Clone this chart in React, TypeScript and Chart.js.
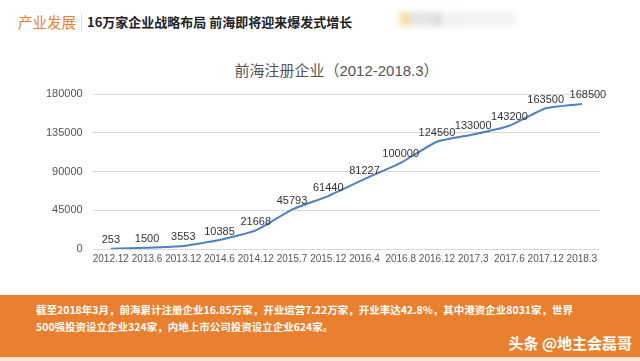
import React, { useEffect, useRef } from "react";
import { Chart, registerables } from "chart.js";

Chart.register(...registerables);

const categories = ["2012.12", "2013.6", "2013.12", "2014.6", "2014.12", "2015.7", "2015.12", "2016.4", "2016.8", "2016.12", "2017.3", "2017.6", "2017.12", "2018.3"];
const values = [253, 1500, 3553, 10385, 21668, 45793, 61440, 81227, 100000, 124560, 133000, 143200, 163500, 168500];
const yTicks = [0, 45000, 90000, 135000, 180000];

const FONT = "'Liberation Sans', 'Noto Sans CJK SC', sans-serif";

const labelPlugin = {
  id: "pointLabels",
  afterDatasetsDraw(chart: any) {
    const ctx = chart.ctx;
    const meta = chart.getDatasetMeta(0);
    ctx.save();
    ctx.font = `11px ${FONT}`;
    ctx.fillStyle = "#333";
    ctx.textAlign = "center";
    ctx.textBaseline = "bottom";
    meta.data.forEach((pt: any, i: number) => {
      const dx = i === values.length - 1 ? 6 : 0;
      ctx.fillText(String(values[i]), pt.x + dx, pt.y - 3);
    });
    // category labels under the plot, placed by the x scale
    const xs = chart.scales.x;
    ctx.font = `10px ${FONT}`;
    ctx.fillStyle = "#555";
    ctx.textBaseline = "middle";
    categories.forEach((c, i) => {
      ctx.fillText(c, xs.getPixelForValue(i), chart.chartArea.bottom + 10);
    });
    ctx.restore();
  },
};

export default function App() {
  const ref = useRef<HTMLCanvasElement>(null);
  useEffect(() => {
    document.body.style.margin = "0";
    const chart = new Chart(ref.current!, {
      type: "line",
      data: {
        labels: categories,
        datasets: [
          {
            data: values,
            borderColor: "#4f81bd",
            borderWidth: 2,
            pointRadius: 0,
            tension: 0.15,
            fill: false,
          },
        ],
      },
      options: {
        animation: false,
        responsive: false,
        maintainAspectRatio: false,
        layout: { padding: { left: 36, right: 40, top: 39, bottom: 18 } },
        plugins: {
          legend: { display: false },
          tooltip: { enabled: false },
          title: { display: false },
        },
        scales: {
          x: {
            offset: true,
            grid: { display: false },
            border: { display: false },
            ticks: { display: false },
          },
          y: {
            min: 0,
            max: 180000,
            afterBuildTicks: (axis: any) => {
              axis.ticks = yTicks.map((v) => ({ value: v }));
            },
            grid: { color: "#d9d9d9", drawTicks: false },
            border: { display: false },
            ticks: {
              color: "#555",
              font: { family: FONT, size: 11 },
              padding: 10,
              callback: (v: any) => String(v),
            },
          },
        },
      },
      plugins: [labelPlugin],
    });
    return () => chart.destroy();
  }, []);

  return (
    <div style={{ position: "fixed", left: 0, top: 0, width: 640, height: 361, background: "#fff", overflow: "hidden", fontFamily: "'Noto Sans CJK SC', sans-serif" }}>
      <div style={{ position: "absolute", left: 18, top: 12, fontSize: 14.5, lineHeight: "20px", color: "#e8822f" }}>产业发展</div>
      <div style={{ position: "absolute", left: 81, top: 13, width: 1, height: 19, background: "#ddd" }} />
      <div style={{ position: "absolute", left: 87, top: 12, fontSize: 13, lineHeight: "20px", fontWeight: "bold", color: "#222" }}>16万家企业战略布局 前海即将迎来爆发式增长</div>
      <div style={{ position: "absolute", left: 400, top: 12, width: 115, height: 14, filter: "blur(3px)", background: "linear-gradient(90deg, #f4d27a 0 8%, #ddd 8% 30%, #ccc 30% 36%, #eee 36% 55%, #f0f0f0 55% 100%)", opacity: 0.8 }} />
      <div style={{ position: "absolute", left: 230, top: 61, width: 213, textAlign: "center", fontSize: 15, lineHeight: "20px", color: "#555", fontFamily: FONT, whiteSpace: "nowrap" }}>前海注册企业（2012-2018.3）</div>
      <canvas ref={ref} width={640} height={220} style={{ position: "absolute", left: 0, top: 55, width: 640, height: 220 }} />
      <div style={{ position: "absolute", left: 0, top: 295, width: 640, height: 62, background: "#e8802f" }}>
        <div style={{ position: "absolute", left: 36, top: 6, width: 600, fontSize: 10.5, lineHeight: "17px", fontWeight: "bold", color: "#fff", whiteSpace: "nowrap" }}>
          截至2018年3月，前海累计注册企业16.85万家，开业运营7.22万家，开业率达42.8%，其中港资企业8031家，世界
          <br />
          500强投资设立企业324家，内地上市公司投资设立企业624家。
        </div>
        <div style={{ position: "absolute", right: 8, top: 37, fontSize: 15, color: "#fff", fontWeight: "bold" }}>头条 @地主会磊哥</div>
      </div>
      <div style={{ position: "absolute", left: 0, top: 357, width: 640, height: 4, background: "#f7e6d6" }} />
    </div>
  );
}
